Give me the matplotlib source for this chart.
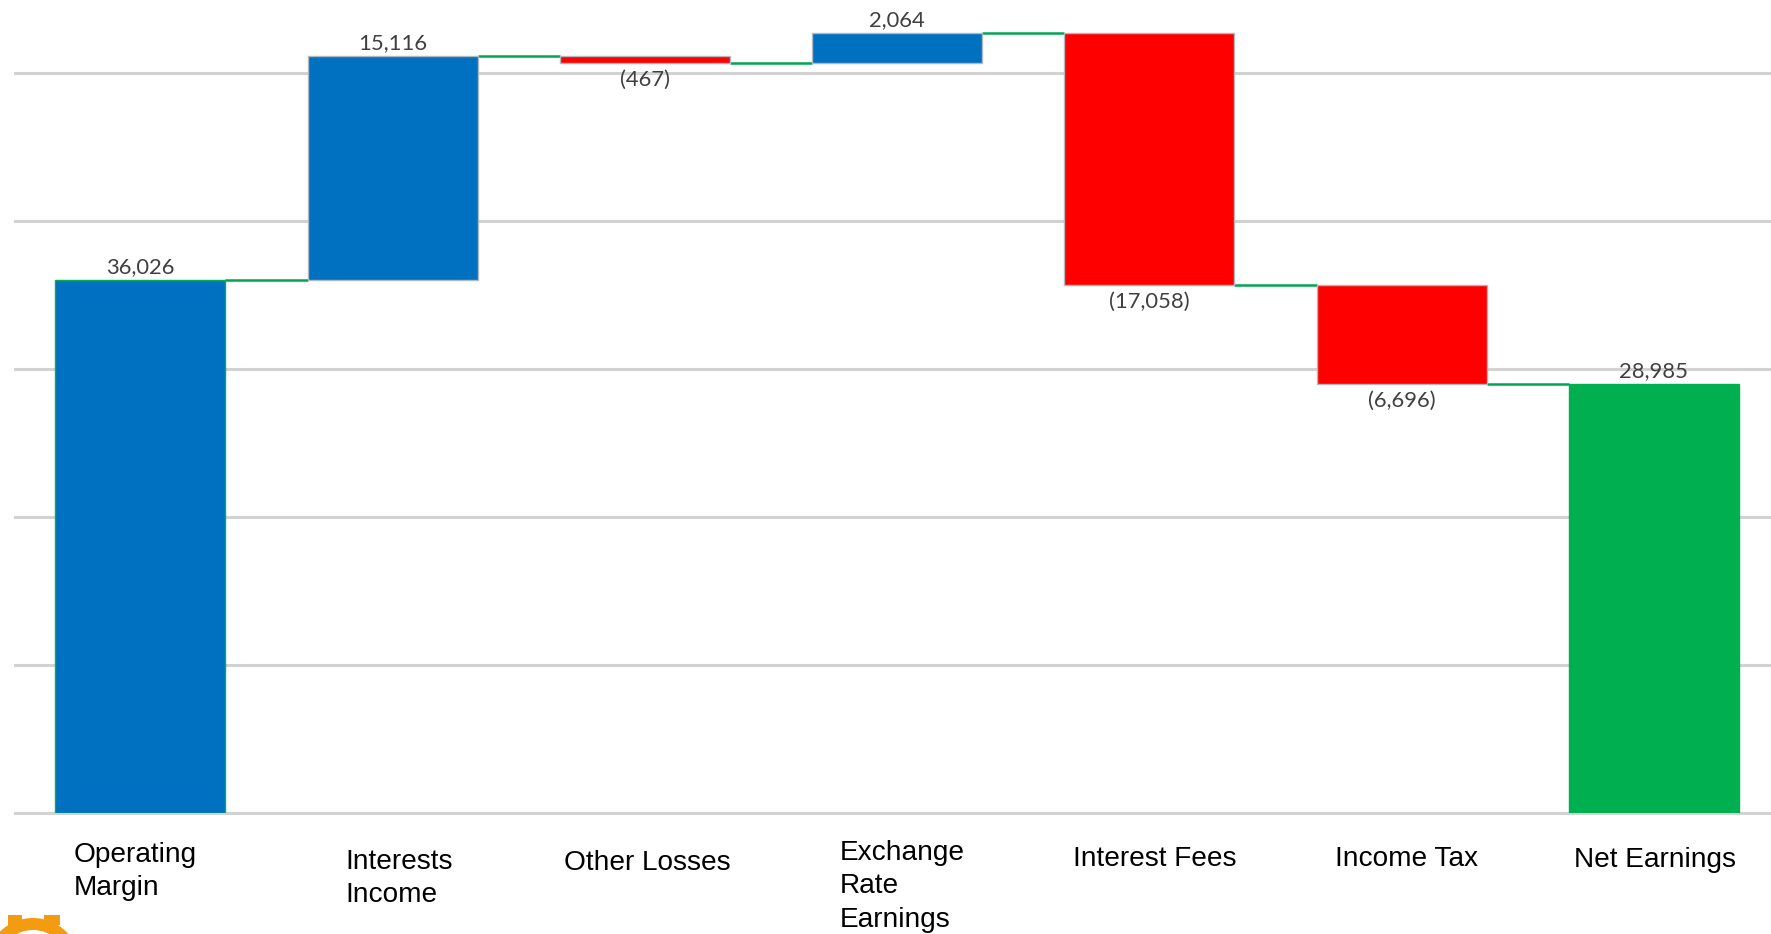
import matplotlib
matplotlib.use('Agg')
import matplotlib.pyplot as plt
from matplotlib.patches import Circle, Rectangle

categories = ['Operating\nMargin', 'Interests\nIncome', 'Other Losses', 'Exchange\nRate\nEarnings',
              'Interest Fees', 'Income Tax', 'Net Earnings']
values = [36026, 15116, -467, 2064, -17058, -6696, 28985]
value_labels = ['36,026', '15,116', '(467)', '2,064', '(17,058)', '(6,696)', '28,985']
colors = ['#0070C0', '#0070C0', '#FF0000', '#0070C0', '#FF0000', '#FF0000', '#00B050']
grid_ticks = [0, 10000, 20000, 30000, 40000, 50000]

# Category labels sit at hand placed spots (left edge, top edge, in pixels)
label_x = [74, 345, 564, 840, 1073, 1335, 1574]
label_y = [842, 849, 850, 840, 846, 846, 847]

W, H = 1771, 934
fig = plt.figure(figsize=(W / 100, H / 100), dpi=100)
ax = fig.add_axes([15 / W, (H - 813) / H, 1 - 15 / W, 813 / H])

# Work out where each floating bar starts and ends
bottoms = []
levels = []
running = 0
for i, v in enumerate(values):
    if i == len(values) - 1:
        bottoms.append(0)
        levels.append(v)
    else:
        bottoms.append(min(running, running + v))
        running += v
        levels.append(running)

for t in grid_ticks:
    ax.axhline(t, color='#D2D2D2', lw=2.2, zorder=1, clip_on=False)

positions = list(range(len(values)))
bar_width = 0.674
heights = [abs(v) for v in values]
ax.bar(positions, heights, bar_width, bottom=bottoms, color=colors, zorder=3,
       edgecolor=['#00B050'] + ['#B0B8C0'] * 5 + ['#00B050'], linewidth=1.0)

# Green connectors between the bars
for i in range(len(values) - 1):
    ax.plot([i + bar_width / 2, i + 1 - bar_width / 2], [levels[i], levels[i]],
            color='#00A650', lw=1.8, zorder=2, solid_capstyle='butt')

# Value labels, above rising bars and under falling ones
for i, v in enumerate(values):
    if v >= 0:
        ax.annotate(value_labels[i], (i, bottoms[i] + v), xytext=(0, 2), textcoords='offset points',
                    ha='center', va='bottom', fontsize=15.8, family='Lato', color='#404040', zorder=5)
    else:
        ax.annotate(value_labels[i], (i, bottoms[i]), xytext=(0, -5), textcoords='offset points',
                    ha='center', va='top', fontsize=15.8, family='Lato', color='#404040', zorder=5)

ax.set_xlim(-0.497, 6.464)
ax.set_ylim(0, 54950)
ax.axis('off')

for name, x, y in zip(categories, label_x, label_y):
    fig.text(x / W, 1 - y / H, name, ha='left', va='top', fontsize=20.2,
             family='Liberation Sans', color='black', linespacing=1.37)

# Orange gear cut off by the bottom left corner
overlay = fig.add_axes([0, 0, 1, 1])
overlay.set_xlim(0, W)
overlay.set_ylim(H, 0)
overlay.axis('off')
overlay.patch.set_alpha(0)
overlay.add_patch(Rectangle((8, 915), 14, 10, fc='#F39C12', ec='none'))
overlay.add_patch(Rectangle((44, 915), 16, 10, fc='#F39C12', ec='none'))
overlay.add_patch(Circle((33, 965), 47, fc='#F39C12', ec='none'))
overlay.add_patch(Circle((33, 965), 35, fc='white', ec='none'))

fig.savefig('out.png', dpi=100)
